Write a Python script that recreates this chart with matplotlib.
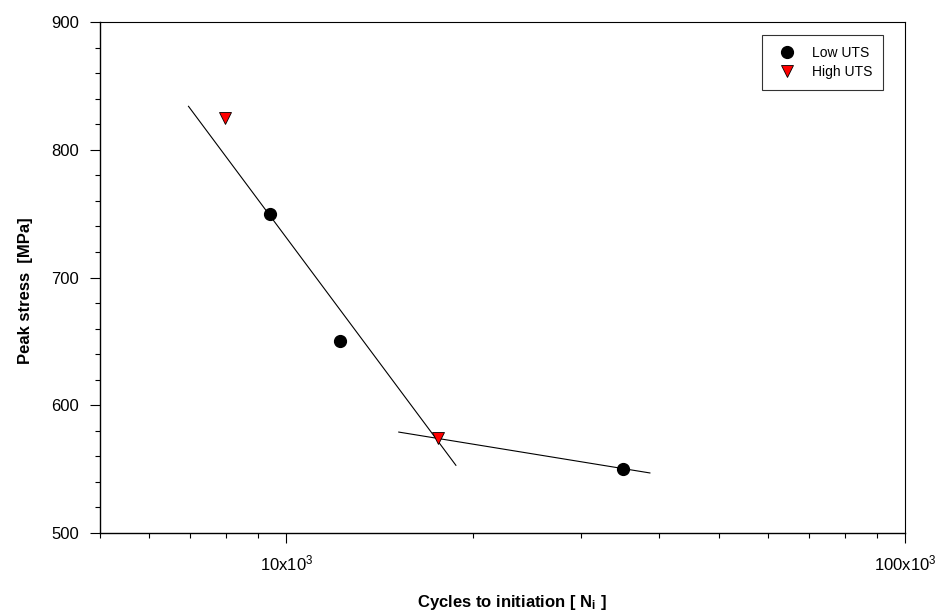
import matplotlib
matplotlib.use("Agg")
import matplotlib.pyplot as plt
from matplotlib.ticker import FixedLocator, NullFormatter, MultipleLocator, FixedFormatter

plt.rcParams["font.family"] = ["Liberation Sans", "DejaVu Sans"]
plt.rcParams["mathtext.default"] = "regular"

# measured data: cycles to initiation vs peak stress
low_n = [9400, 12200, 35000]
low_s = [750, 650, 550]
high_n = [7950, 17600]
high_s = [825, 574]

# fitted trend lines (end points)
fit1_n = [6950, 18800]
fit1_s = [834, 553]
fit2_n = [15200, 38700]
fit2_s = [579, 547]

x_major = [1e4, 1e5]
x_major_labels = ["10x10$^3$", "100x10$^3$"]
x_minor = [5000, 6000, 7000, 8000, 9000,
           20000, 30000, 40000, 50000, 60000, 70000, 80000, 90000]

fig = plt.figure(figsize=(9.42, 6.13), dpi=100)
ax = fig.add_axes([100 / 942, 80 / 613, 805 / 942, 511 / 613])

ax.plot(fit1_n, fit1_s, color="black", lw=0.8, zorder=2)
ax.plot(fit2_n, fit2_s, color="black", lw=0.8, zorder=2)
ax.plot(low_n, low_s, "o", color="black", ms=8.5, ls="none",
        label="Low UTS", zorder=3)
ax.plot(high_n, high_s, "v", mfc="red", mec="black", mew=0.6, ms=9,
        ls="none", label="High UTS", zorder=3)

ax.set_xscale("log")
ax.set_xlim(5000, 100000)
ax.set_ylim(500, 900)

ax.xaxis.set_major_locator(FixedLocator(x_major))
ax.xaxis.set_major_formatter(FixedFormatter(x_major_labels))
ax.xaxis.set_minor_locator(FixedLocator(x_minor))
ax.xaxis.set_minor_formatter(NullFormatter())
ax.yaxis.set_major_locator(MultipleLocator(100))
ax.yaxis.set_minor_locator(MultipleLocator(20))

ax.tick_params(which="major", direction="out", length=7, width=0.8,
               labelsize=12, pad=8)
ax.tick_params(which="minor", direction="out", length=3.5, width=0.8)
ax.tick_params(top=False, right=False, which="both")

for side in ["left", "bottom"]:
    ax.spines[side].set_linewidth(1.0)
for side in ["top", "right"]:
    ax.spines[side].set_linewidth(0.8)

ax.set_xlabel("Cycles to initiation [ N$_i$ ]", fontsize=12, fontweight="bold")
ax.xaxis.set_label_coords(0.512, -0.117)
ax.set_ylabel("Peak stress  [MPa]", fontsize=12, fontweight="bold")
ax.yaxis.set_label_coords(-0.083, 0.475)

leg = ax.legend(loc="upper right", bbox_to_anchor=(883 / 942, 578 / 613),
                bbox_transform=fig.transFigure, fontsize=10, frameon=True,
                fancybox=False, edgecolor="black", borderpad=0.8,
                handletextpad=0.8, labelspacing=0.35, borderaxespad=0)
leg.get_frame().set_linewidth(0.8)

fig.savefig("out.png", dpi=100)
